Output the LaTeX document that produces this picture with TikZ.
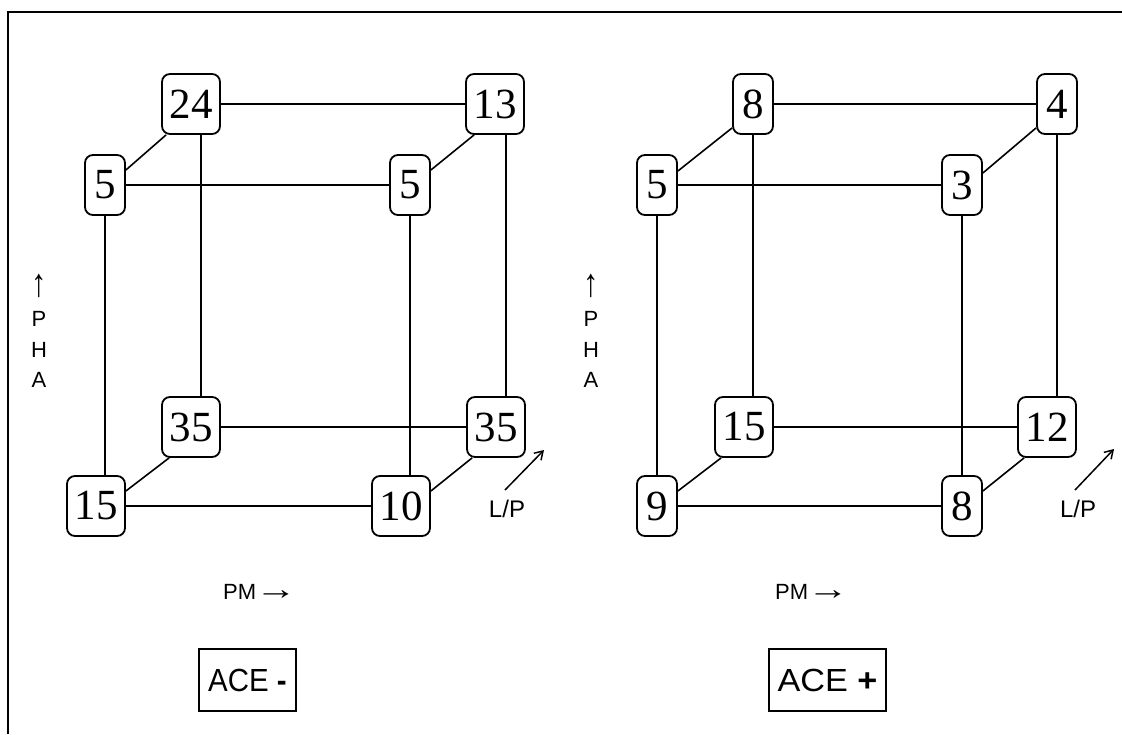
\documentclass[tikz,border=0pt]{standalone}
\usepackage{fontspec}
\usepackage{graphicx}
\setmainfont{Liberation Serif}
\newfontfamily\sansf{Liberation Sans}
\usetikzlibrary{arrows.meta}
\newcommand{\uparr}{\scalebox{1.4}[1.8]{↑}}
\newcommand{\rtarr}{\scalebox{1.9}[1.4]{→}}
\tikzset{
  val/.style={draw, line width=1.8pt, rounded corners=8pt, minimum width=40pt,
    minimum height=60pt, inner xsep=7.5pt, inner ysep=0pt,
    font=\fontsize{43}{43}\selectfont},
  link/.style={line width=1.6pt},
  axislab/.style={font=\sansf\fontsize{22}{30.5}\selectfont, inner sep=0pt},
  lplab/.style={font=\sansf\fontsize{24}{24}\selectfont, inner sep=0pt},
  acebox/.style={draw, line width=1.6pt, minimum height=62pt, inner sep=0pt,
    font=\sansf\fontsize{32}{32}\selectfont},
  lparrow/.style={line width=1.5pt, -{Straight Barb[length=8pt,width=10pt]}},
}
\begin{document}
\begin{tikzpicture}[x=1pt,y=-1pt]
\useasboundingbox (0,0) rectangle (1122,734);
% frame (top and left edges)
\draw[line width=2pt] (8,734) -- (8,12) -- (1122,12);

% ---------- left cube (ACE -) ----------
\node[val] (a24)  at (191,104)   {24};
\node[val] (a13)  at (495,104)   {13};
\node[val] (a5l)  at (105,185)   {5};
\node[val] (a5r)  at (410,185)   {5};
\node[val] (a35l) at (191,427)   {35};
\node[val] (a35r) at (496,427)   {35};
\node[val] (a15)  at (96,506)    {15};
\node[val] (a10)  at (401,506)   {10};

\draw[link] (a24) -- (a13);
\draw[link] (a5l) -- (a5r);
\draw[link] (a35l) -- (a35r);
\draw[link] (a15) -- (a10);

\coordinate (av1) at ([xshift=10pt]a24.south);
\coordinate (av2) at ([xshift=11pt]a13.south);
\draw[link] (av1) -- (av1 |- a35l.north);
\draw[link] (av2) -- (av2 |- a35r.north);
\draw[link] (a5l.south) -- (a5l.south |- a15.north);
\draw[link] (a5r.south) -- (a5r.south |- a10.north);

\draw[link] ([xshift=5pt]a24.south west) -- ([yshift=15pt]a5l.east);
\draw[link] ([xshift=9pt]a13.south west) -- ([yshift=15pt]a5r.east);
\draw[link] ([xshift=8pt]a35l.south west) -- ([yshift=15pt]a15.east);
\draw[link] ([xshift=6pt]a35r.south west) -- ([yshift=15pt]a10.east);

\node[axislab, align=center, anchor=south] (phaL) at (39,388) {\uparr\\P\\H\\A};
\node[axislab, anchor=base west] (pmL) at (223,599) {PM\kern-1pt\rtarr};
\node[lplab, anchor=base] (lpL) at (507,517) {L/P};
\coordinate (lpLs) at (505,490);
\coordinate (lpLe) at (544,450);
\draw[lparrow] (lpLs) -- (lpLe);
\node[acebox, minimum width=97pt] (aceL) at (247.5,680)
  {\scalebox{0.92}[1]{ACE \textbf{-}}};

% ---------- right cube (ACE +) ----------
\node[val] (r8)  at (753,104)  {8};
\node[val] (r4)  at (1057,104) {4};
\node[val] (r5)  at (657,185)  {5};
\node[val] (r3)  at (962,185)  {3};
\node[val] (r15) at (744,427)  {15};
\node[val] (r12) at (1047,427) {12};
\node[val] (r9)  at (657,506)  {9};
\node[val] (r8b) at (962,506)  {8};

\draw[link] (r8) -- (r4);
\draw[link] (r5) -- (r3);
\draw[link] (r15) -- (r12);
\draw[link] (r9) -- (r8b);

\draw[link] (r8.south) -- (r8.south |- r15.north);
\draw[link] (r4.south) -- (r4.south |- r12.north);
\draw[link] (r5.south) -- (r5.south |- r9.north);
\draw[link] (r3.south) -- (r3.south |- r8b.north);

\draw[link] ([yshift=7pt]r8.south west) -- ([yshift=14pt]r5.east);
\draw[link] ([yshift=7pt]r4.south west) -- ([yshift=12pt]r3.east);
\draw[link] ([xshift=7pt]r15.south west) -- ([yshift=15pt]r9.east);
\draw[link] ([xshift=7pt]r12.south west) -- ([yshift=15pt]r8b.east);

\node[axislab, align=center, anchor=south] (phaR) at (591,388) {\uparr\\P\\H\\A};
\node[axislab, anchor=base west] (pmR) at (775,599) {PM\kern-1pt\rtarr};
\node[lplab, anchor=base] (lpR) at (1078,517) {L/P};
\coordinate (lpRs) at (1075,490);
\coordinate (lpRe) at (1114,449);
\draw[lparrow] (lpRs) -- (lpRe);
\node[acebox, minimum width=117pt] (aceR) at (827.5,680)
  {\scalebox{1.07}[1]{ACE \textbf{+}}};
\end{tikzpicture}
\end{document}
